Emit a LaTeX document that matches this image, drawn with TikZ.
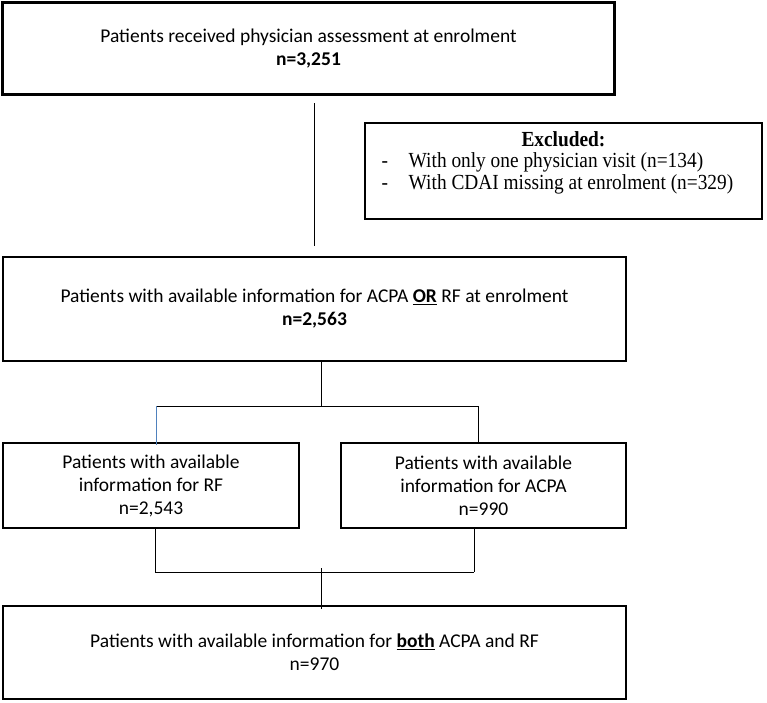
\documentclass[tikz,border=0pt]{standalone}
\usepackage{fontspec}
\setmainfont{Carlito}
\newfontfamily\exclfont{Liberation Serif}[FakeStretch=0.9]
\usetikzlibrary{calc}

\definecolor{wordblue}{RGB}{79,129,189}
\tikzset{
  frame/.style={draw, line width=2.6pt, align=center, inner sep=0pt},
  box/.style={frame, font=\fontsize{19.5}{23}\selectfont,
    execute at begin node={\rule{0pt}{20.5pt}}},
  exclbox/.style={frame, font=\exclfont\fontsize{21.5}{21.5}\selectfont},
  link/.style={line width=0.9pt},
}

\begin{document}
\begin{tikzpicture}[x=1pt,y=-1pt]
  \useasboundingbox (0,0) rectangle (767,702);
  % enrolment
  \node[box, minimum width=612pt, minimum height=92pt] (enrol) at (308.5,48.5)
    {Patients received physician assessment at enrolment\\ \textbf{n=3,251}};
  % excluded
  \node[exclbox, minimum width=397pt, minimum height=96pt] (excl) at (563.5,171)
    {\begin{tabular}{@{}l@{\hspace{12pt}}}
      \multicolumn{1}{c}{\textbf{Excluded:}}\\
      \makebox[27pt][l]{-}With only one physician visit (n=134)\\
      \makebox[27pt][l]{-}With CDAI missing at enrolment (n=329)\\[-6pt]
      \mbox{}
    \end{tabular}};
  % ACPA or RF
  \node[box, minimum width=623pt, minimum height=104pt] (either) at (314.5,309)
    {Patients with available information for ACPA \underline{\textbf{OR}} RF at enrolment\\ \textbf{n=2,563}};
  % RF / ACPA
  \node[box, minimum width=296pt, minimum height=85pt] (rf) at (151,485.5)
    {Patients with available\\ information for RF\\ n=2,543};
  \node[box, minimum width=285pt, minimum height=85pt] (acpa) at (483.5,485.5)
    {Patients with available\\ information for ACPA\\ n=990};
  % both
  \node[box, minimum width=623pt, minimum height=93pt] (both) at (314.5,652.5)
    {Patients with available information for \underline{\textbf{both}} ACPA and RF\\ n=970};

  % connectors
  \draw[link, shorten <=7.5pt, shorten >=10pt] (enrol.south -| either.north) -- (either.north);

  \coordinate (fork) at (321,406);
  \coordinate (forkL) at (156,406);
  \coordinate (forkR) at (478,406);
  \draw[link] (either.south -| fork) -- (fork);
  \draw[link] (forkL) -- (forkR);
  \draw[link, wordblue, shorten >=-3pt] (forkL) -- (forkL |- rf.north);
  \draw[link] (forkR) -- (forkR |- acpa.north);

  \coordinate (join) at (321,572);
  \coordinate (joinL) at (155,572);
  \coordinate (joinR) at (474,572);
  \draw[link] (rf.south -| joinL) -- (joinL);
  \draw[link] (acpa.south -| joinR) -- (joinR);
  \draw[link] (joinL) -- (joinR);
  \draw[link, shorten <=-4pt, shorten >=-4pt] (join) -- (both.north -| join);
\end{tikzpicture}
\end{document}
